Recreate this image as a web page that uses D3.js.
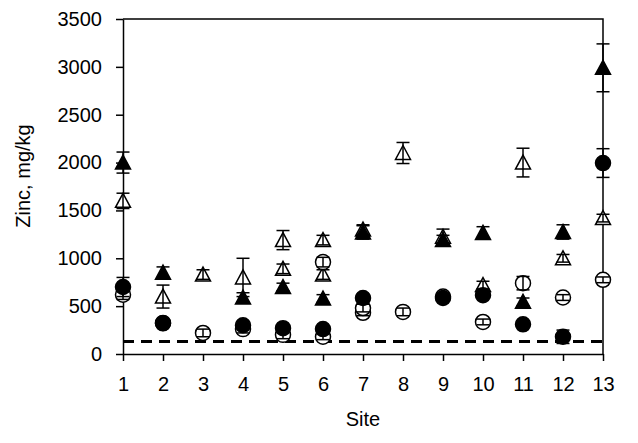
<!DOCTYPE html>
<html>
<head>
<meta charset="utf-8">
<script src="https://cdn.jsdelivr.net/npm/d3@7"></script>
<style>
  body { margin: 0; background: #fff; }
  text { font-family: Arial, "Liberation Sans", sans-serif; fill: #000; }
</style>
</head>
<body>
<div id="chart"></div>
<script>
// Site numbers
const sites = [1, 2, 3, 4, 5, 6, 7, 8, 9, 10, 11, 12, 13];
const yTicks = [0, 500, 1000, 1500, 2000, 2500, 3000, 3500];

// Zinc values (mg/kg), null = no point
const filledTri    = [2000, 850, null, 590, 700, 580, 1270, null, 1190, 1265, 545, 1275, 2990];
const filledTriErr = [110, 60, 0, 50, 40, 40, 70, 0, 50, 65, 40, 75, 250];
const openTri      = [1600, 600, 830, 800, 1190, 1190, 1300, 2100, 1225, 720, 2000, 1000, 1420];
const openTriErr   = [80, 120, 50, 200, 100, 50, 50, 110, 80, 40, 150, 40, 40];
const openTri2     = [null, null, null, null, 890, 830, null, null, null, null, null, null, null];
const openTri2Err  = [0, 0, 0, 0, 50, 50, 0, 0, 0, 0, 0, 0, 0];
const filledCirc    = [700, 325, null, 300, 270, 260, 585, null, 585, 615, 310, 180, 1995];
const filledCircErr = [100, 30, 0, 40, 30, 30, 40, 0, 30, 30, 30, 70, 150];
const openCirc      = [620, 320, 220, 260, 200, 180, 480, 440, 600, 335, 740, 590, 775];
const openCircErr   = [50, 30, 40, 40, 40, 30, 40, 40, 30, 30, 70, 30, 30];
const openCirc2     = [null, null, null, null, null, 960, 430, null, null, null, null, null, null];
const openCirc2Err  = [0, 0, 0, 0, 0, 50, 30, 0, 0, 0, 0, 0, 0];

// Background level (dashed line)
const baseline = 130;

const svgWidth = 638;
const svgHeight = 443;
const margin = { top: 19, right: 35, bottom: 89, left: 123 };
const width = svgWidth - margin.left - margin.right;
const height = svgHeight - margin.top - margin.bottom;

const svg = d3.select("#chart")
    .append("svg")
    .attr("width", svgWidth)
    .attr("height", svgHeight)
    .append("g")
    .attr("transform", `translate(${margin.left},${margin.top})`);

const xScale = d3.scaleLinear().domain([1, 13]).range([0, width]);
const yScale = d3.scaleLinear().domain([0, 3500]).range([height, 0]);

// Box: top and right edges
svg.append("path")
    .attr("d", `M0,0H${width}V${height}`)
    .attr("fill", "none")
    .attr("stroke", "#000")
    .attr("stroke-width", 1.5);

// Axes
const xAxis = svg.append("g")
    .attr("transform", `translate(0,${height})`)
    .call(d3.axisBottom(xScale).tickValues(sites).tickFormat(d3.format("d"))
        .tickSizeInner(7).tickSizeOuter(0).tickPadding(16));

const yAxis = svg.append("g")
    .call(d3.axisLeft(yScale).tickValues(yTicks).tickFormat(d3.format("d"))
        .tickSizeInner(7).tickSizeOuter(0).tickPadding(14));

[xAxis, yAxis].forEach(ax => {
    ax.select(".domain").attr("stroke-width", 1.5);
    ax.selectAll(".tick line").attr("stroke-width", 1.5);
    ax.selectAll(".tick text").style("font-size", "20px")
        .style("font-family", "Arial, 'Liberation Sans', sans-serif");
});

// Axis titles
svg.append("text")
    .attr("x", xScale(7))
    .attr("y", height + 72)
    .attr("text-anchor", "middle")
    .style("font-size", "20px")
    .text("Site");

svg.append("text")
    .attr("transform", `translate(${30 - margin.left},${176 - margin.top}) rotate(-90)`)
    .attr("text-anchor", "middle")
    .style("font-size", "20px")
    .text("Zinc, mg/kg");

// Dashed line
svg.append("line")
    .attr("x1", 0)
    .attr("x2", width)
    .attr("y1", yScale(baseline))
    .attr("y2", yScale(baseline))
    .attr("stroke", "#000")
    .attr("stroke-width", 3)
    .attr("stroke-dasharray", "11,7");

const triPath = "M0,-7.5L7.5,6.5L-7.5,6.5Z";

function drawSeries(values, errs, shape, filled) {
    const pts = sites.map((s, i) => ({ site: s, v: values[i], e: errs[i] }))
        .filter(d => d.v !== null);

    const g = svg.append("g");

    // markers
    const m = g.selectAll(".m")
        .data(pts)
        .enter();

    if (shape === "tri") {
        m.append("path")
            .attr("d", triPath)
            .attr("transform", d => `translate(${xScale(d.site)},${yScale(d.v)})`)
            .attr("fill", filled ? "#000" : "#fff")
            .attr("stroke", "#000")
            .attr("stroke-width", 1.5);
    } else {
        m.append("circle")
            .attr("cx", d => xScale(d.site))
            .attr("cy", d => yScale(d.v))
            .attr("r", 7.5)
            .attr("fill", filled ? "#000" : "#fff")
            .attr("stroke", "#000")
            .attr("stroke-width", 1.5);
    }

    // error bars on top
    const eb = g.selectAll(".eb")
        .data(pts.filter(d => d.e > 0))
        .enter().append("g")
        .attr("stroke", "#000")
        .attr("stroke-width", 1.5);

    eb.append("line")
        .attr("x1", d => xScale(d.site))
        .attr("x2", d => xScale(d.site))
        .attr("y1", d => yScale(d.v - d.e))
        .attr("y2", d => yScale(d.v + d.e));

    eb.append("line")
        .attr("x1", d => xScale(d.site) - 6.5)
        .attr("x2", d => xScale(d.site) + 6.5)
        .attr("y1", d => yScale(d.v + d.e))
        .attr("y2", d => yScale(d.v + d.e));

    eb.append("line")
        .attr("x1", d => xScale(d.site) - 6.5)
        .attr("x2", d => xScale(d.site) + 6.5)
        .attr("y1", d => yScale(d.v - d.e))
        .attr("y2", d => yScale(d.v - d.e));
}

drawSeries(openTri2, openTri2Err, "tri", false);
drawSeries(openTri, openTriErr, "tri", false);
drawSeries(openCirc2, openCirc2Err, "circ", false);
drawSeries(openCirc, openCircErr, "circ", false);
drawSeries(filledTri, filledTriErr, "tri", true);
drawSeries(filledCirc, filledCircErr, "circ", true);
</script>
</body>
</html>
